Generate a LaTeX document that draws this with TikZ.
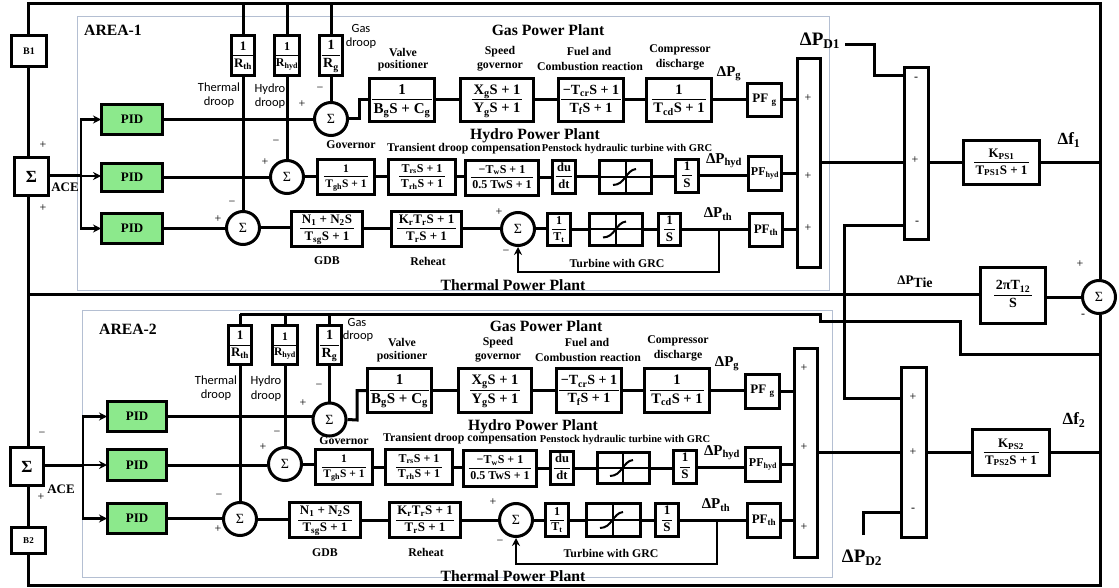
\documentclass[tikz,border=0pt]{standalone}
\usepackage{fontspec}
\setmainfont{Liberation Serif}
\newfontfamily\calib{Carlito}
\usetikzlibrary{arrows.meta,calc}
\newcommand\dn[1]{\textsubscript{#1}}
\newcommand\fsz[1]{\fontsize{#1}{#1}\selectfont}
\newcommand\frc[3]{{\fsz{#1}\setlength{\arrayrulewidth}{1pt}\renewcommand\arraystretch{1.22}\begin{tabular}{@{\hspace{1.5pt}}c@{\hspace{1.5pt}}}#2\\\hline #3\end{tabular}}}
\newcounter{lbl}
\definecolor{pidgreen}{HTML}{8CE98C}
\definecolor{areablue}{HTML}{B4BFD2}
\tikzset{
  wire/.style={line width=3pt,black},
  fbk/.style={line width=2pt,black},
  arr/.style={line width=2.4pt,black,-{Stealth[length=8pt,width=8pt]}},
  blk/.style={draw=black,line width=3pt,inner sep=0pt,outer sep=0.5pt,font=\bfseries},
  pidbox/.style={blk,fill=pidgreen,font=\bfseries\fsz{13}},
  sumc/.style={draw=black,circle,line width=3pt,inner sep=0pt,minimum size=33pt,font=\fsz{14}},
  area/.style={draw=areablue,line width=1pt},
  caplab/.style={inner sep=0pt,font=\bfseries\fsz{11.8}},
  penlab/.style={inner sep=0pt,font=\bfseries\fsz{10.5}},
  big/.style={inner sep=0pt,font=\bfseries\fsz{15.7}},
  dp/.style={inner sep=0pt,font=\bfseries\fsz{15}},
  sans/.style={inner sep=0pt,font=\calib\fsz{12.5}},
  sgn/.style={inner sep=0pt,font=\fsz{12}},
}
% \nbx[style]{name}{x1}{y1}{x2}{y2}{text}
\newcommand\nbx[7][blk]{\pgfmathsetmacro\bxw{#5-#3-3}\pgfmathsetmacro\bxh{#6-#4-3}%
  \node[#1,minimum width=\bxw pt,minimum height=\bxh pt] (#2) at ({(#3+#5)/2},{(#4+#6)/2}) {#7};}
% \lb[style]{x}{y}{text}
\newcommand\lb[4][caplab]{\stepcounter{lbl}\node[#1] (lb\arabic{lbl}) at (#2,#3) {#4};}
% saturation block
\newcommand\sat[6]{\nbx{#1}{#2}{#3}{#4}{#5}{}%
  \coordinate (#1v) at (#6,0);\coordinate (#1c) at (#1.center -| #1v);
  \draw[fbk] (#1.west) -- (#1.east);
  \draw[fbk] (#1.north -| #1v) -- (#1.south -| #1v);
  \draw[fbk] ([shift={(-13,8)}]#1c) .. controls ([shift={(-1,8)}]#1c) and ([shift={(0,-7)}]#1c) .. ([shift={(10,-8)}]#1c);}
\newcommand\hw[2]{\draw[wire] (#1.east) -- (#1.east -| #2.west);}
\begin{document}
\begin{tikzpicture}[x=1pt,y=-1pt]
\useasboundingbox (0,0) rectangle (1119,588);
\fill[white] (0,0) rectangle (1119,588);
% area frames
\draw[area] (77,17) rectangle (829,290);
\draw[area] (82,310) rectangle (832,577);
% named corners
\coordinate (TL) at (28,4);\coordinate (TR) at (1100,4);\coordinate (BR) at (1100,585);\coordinate (BL) at (28,585);
\coordinate (TieL) at (28,294.5);

%=== Area 1 blocks
\nbx{B1}{10}{34}{48}{68}{\fsz{10}B1}
\nbx{S1}{13}{156}{50}{197}{\fsz{17}Σ}
\nbx[pidbox]{PIDa}{100}{103}{164}{136}{PID}
\nbx[pidbox]{PIDb}{100}{162}{164}{193}{PID}
\nbx[pidbox]{PIDc}{100}{212}{164}{245}{PID}
\nbx{Rth}{230}{34}{256}{77}{\frc{13}{1}{R\dn{th}}}
\nbx{Rhy}{273}{34}{301}{77}{\frc{12}{1}{R\dn{hyd}}}
\nbx{Rg}{318}{34}{344}{77}{\frc{14}{1}{R\dn{g}}}
\node[sumc] (Sg) at (331,119) {Σ};
\node[sumc] (Sh) at (287,177) {Σ};
\node[sumc] (St) at (243,228) {Σ};
\nbx{Val}{368}{77}{436}{123}{\frc{15}{1}{B\dn{g}S + C\dn{g}}}
\nbx{Spd}{459}{77}{535}{123}{\frc{14.5}{X\dn{g}S + 1}{Y\dn{g}S + 1}}
\nbx{Fue}{557}{77}{625}{123}{\frc{14}{−T\dn{cr}S + 1}{T\dn{f}S + 1}}
\nbx{Cmp}{645}{77}{713}{123}{\frc{14.5}{1}{T\dn{cd}S + 1}}
\nbx{PFg}{746}{82}{783}{118}{\fsz{13}PF \dn{g}}
\nbx{AddA}{796}{57}{822}{269}{}
\nbx{Tgh}{316}{158}{376}{196}{\frc{11.5}{1}{T\dn{gh}S + 1}}
\nbx{Trs}{387}{158}{457}{196}{\frc{12}{T\dn{rs}S + 1}{T\dn{rh}S + 1}}
\nbx{Tw}{464}{159}{540}{197}{\frc{12}{−T\dn{w}S + 1}{0.5 TwS + 1}}
\nbx{Du}{551}{159}{577}{195}{\frc{12.5}{du}{dt}}
\sat{Sa}{598}{159}{653}{195}{626}
\nbx{Ia}{674}{158}{700}{194}{\frc{13}{1}{S}}
\nbx{PFh}{747}{155}{783}{192}{\fsz{12}PF\dn{hyd}}
\nbx{Nn}{290}{210}{364}{248}{\frc{13}{N\dn{1} + N\dn{2}S}{T\dn{sg}S + 1}}
\nbx{Kr}{390}{210}{463}{248}{\frc{13}{K\dn{r}T\dn{r}S + 1}{T\dn{r}S + 1}}
\node[sumc] (Sf) at (518,229) {Σ};
\nbx{Tt}{546}{212}{572}{247}{\frc{12}{1}{T\dn{t}}}
\sat{Sb}{588}{212}{644}{247}{616}
\nbx{Ib}{657}{212}{682}{247}{\frc{13}{1}{S}}
\nbx{PFt}{748}{212}{784}{248}{\fsz{13}PF\dn{th}}
\nbx{SumA}{903}{66}{930}{241}{}
\nbx{Ka}{962}{139}{1041}{186}{\frc{13}{K\dn{PS1}}{T\dn{PS1}S + 1}}
\nbx{Tie}{979}{266}{1047}{325}{\frc{14}{2πT\dn{12}}{S}}
\node[sumc] (Stie) at (1099,297) {Σ};

%=== Area 2 blocks
\nbx{B2}{10}{526}{47}{555}{\fsz{9}B2}
\nbx{S2}{9}{446}{45}{487}{\fsz{17}Σ}
\nbx[pidbox]{PIDd}{106}{400}{168}{433}{PID}
\nbx[pidbox]{PIDe}{106}{448}{168}{482}{PID}
\nbx[pidbox]{PIDf}{106}{502}{168}{535}{PID}
\nbx{Rthb}{227}{324}{253}{366}{\frc{13}{1}{R\dn{th}}}
\nbx{Rhyb}{272}{324}{298}{366}{\frc{11.5}{1}{R\dn{hyd}}}
\nbx{Rgb}{316}{324}{343}{366}{\frc{14}{1}{R\dn{g}}}
\node[sumc] (Sgb) at (329.5,419.5) {Σ};
\node[sumc] (Shb) at (285,464) {Σ};
\node[sumc] (Stb) at (240,519) {Σ};
\nbx{Valb}{366}{367}{433}{414}{\frc{15}{1}{B\dn{g}S + C\dn{g}}}
\nbx{Spdb}{457}{367}{533}{414}{\frc{14.5}{X\dn{g}S + 1}{Y\dn{g}S + 1}}
\nbx{Fueb}{555}{367}{623}{414}{\frc{14}{−T\dn{cr}S + 1}{T\dn{f}S + 1}}
\nbx{Cmpb}{643}{367}{711}{414}{\frc{14.5}{1}{T\dn{cd}S + 1}}
\nbx{PFgb}{744}{373}{781}{410}{\fsz{13}PF \dn{g}}
\nbx{AddB}{793}{347}{819}{559}{}
\nbx{Tghb}{314}{448}{374}{486}{\frc{11.5}{1}{T\dn{gh}S + 1}}
\nbx{Trsb}{384}{448}{454}{486}{\frc{12}{T\dn{rs}S + 1}{T\dn{rh}S + 1}}
\nbx{Twb}{462}{449}{538}{488}{\frc{12}{−T\dn{w}S + 1}{0.5 TwS + 1}}
\nbx{Dub}{549}{450}{575}{486}{\frc{12.5}{du}{dt}}
\sat{Sc}{596}{451}{651}{485}{623}
\nbx{Ic}{672}{449}{698}{485}{\frc{13}{1}{S}}
\nbx{PFhb}{744}{446}{782}{483}{\fsz{12}PF\dn{hyd}}
\nbx{Nnb}{288}{501}{362}{539}{\frc{13}{N\dn{1} + N\dn{2}S}{T\dn{sg}S + 1}}
\nbx{Krb}{388}{501}{462}{539}{\frc{13}{K\dn{r}T\dn{r}S + 1}{T\dn{r}S + 1}}
\node[sumc] (Sfb) at (516,520) {Σ};
\nbx{Ttb}{544}{502}{570}{538}{\frc{12}{1}{T\dn{t}}}
\sat{Sd}{585}{502}{642}{538}{613}
\nbx{Id}{654}{502}{680}{538}{\frc{13}{1}{S}}
\nbx{PFtb}{746}{502}{782}{539}{\fsz{13}PF\dn{th}}
\nbx{SumB}{900}{366}{928}{539}{}
\nbx{Kb}{971}{428}{1051}{477}{\frc{13}{K\dn{PS2}}{T\dn{PS2}S + 1}}

%=== outer loop
\draw[wire] (B1.north -| TL) -- (TL) -- (TR) -- (Stie.north -| TR);
\draw[wire] (B1.south -| TL) -- (S1.north -| TL);
\draw[wire] (S1.south -| TL) -- (S2.north -| TL);
\draw[wire] (S2.south -| TL) -- (B2.north -| TL);
\draw[wire] (B2.south -| TL) -- (BL) -- (BR) -- (Stie.south -| TR);
\draw[wire] (TieL) -- (TieL -| Tie.west);
\draw[wire] (Tie.east |- Stie.west) -- (Stie.west);

%=== Area 1 wiring
\coordinate (Ja) at (81,176);
\draw[wire] (S1.east |- Ja) -- (Ja);
\draw[arr] (Ja) |- (PIDa.west);
\draw[arr] (Ja) -- (Ja -| PIDb.west);
\draw[arr] (Ja) |- (PIDc.west);
\draw[wire] (Rth.north) -- (Rth.north |- TL);
\draw[wire] (Rhy.north) -- (Rhy.north |- TL);
\draw[wire] (Rg.north) -- (Rg.north |- TL);
\draw[wire] (Rth.south) -- (St.north);
\draw[wire] (Rhy.south) -- (Sh.north);
\draw[wire] (Rg.south) -- (Sg.north);
\draw[wire] (PIDa.east) -- (PIDa.east -| Sg.west);
\draw[wire] (PIDb.east) -- (PIDb.east -| Sh.west);
\draw[wire] (PIDc.east) -- (PIDc.east -| St.west);
\coordinate (Ga) at (359,119);
\draw[wire] (Sg.east) -- (Ga) |- (Val.west);
\hw{Val}{Spd}\hw{Spd}{Fue}\hw{Fue}{Cmp}\hw{Cmp}{PFg}\hw{PFg}{AddA}
\hw{Sh}{Tgh}\hw{Tgh}{Trs}\hw{Trs}{Tw}\hw{Tw}{Du}\hw{Du}{Sa}\hw{Sa}{Ia}\hw{Ia}{PFh}\hw{PFh}{AddA}
\hw{St}{Nn}\hw{Nn}{Kr}\hw{Kr}{Sf}\hw{Sf}{Tt}\hw{Tt}{Sb}\hw{Sb}{Ib}\hw{Ib}{PFt}\hw{PFt}{AddA}
\coordinate (Fa) at (719,229.5);\coordinate (Fb) at (719,272);
\draw[arr] (Fa) -- (Fb) -| (Sf.south);
\draw[wire] (Ka.west -| AddA.east) -- (Ka.west -| SumA.west);
\draw[wire] (Ka.west -| SumA.east) -- (Ka.west);
\draw[wire] (Ka.east) -- (Ka.east -| TR);
% disturbance and tie inputs
\coordinate (Da) at (845,45);\coordinate (Db) at (874,45);\coordinate (Dc) at (874,76);
\draw[wire] (Da) -- (Db) -- (Dc) -- (Dc -| SumA.west);
\coordinate (Ea) at (844,226);\coordinate (Eb) at (844,398);
\draw[wire] (Ea -| SumA.west) -- (Ea) -- (Eb) -- (Eb -| SumB.west);

%=== Area 2 wiring
\coordinate (Jb) at (83,465);
\draw[wire] (S2.east |- Jb) -- (Jb);
\draw[arr] (Jb) |- (PIDd.west);
\draw[arr] (Jb) -- (Jb -| PIDe.west);
\draw[arr] (Jb) |- (PIDf.west);
\coordinate (Ha) at (240,314);\coordinate (Hb) at (820,314);\coordinate (Hc) at (820,321);\coordinate (Hd) at (960,321);\coordinate (He) at (960,354);
\draw[wire] (Ha) -- (Hb) -- (Hc) -- (Hd) -- (He) -- (He -| TR);
\draw[wire] (Rthb.north) -- (Rthb.north |- Ha);
\draw[wire] (Rhyb.north) -- (Rhyb.north |- Ha);
\draw[wire] (Rgb.north) -- (Rgb.north |- Ha);
\draw[wire] (Rthb.south) -- (Stb.north);
\draw[wire] (Rhyb.south) -- (Shb.north -| Rhyb.south);
\draw[wire] (Rgb.south) -- (Sgb.north);
\draw[wire] (PIDd.east) -- (PIDd.east -| Sgb.west);
\draw[wire] (PIDe.east) -- (PIDe.east -| Shb.west);
\draw[wire] (PIDf.east) -- (PIDf.east -| Stb.west);
\coordinate (Gb) at (357,420);
\draw[wire] (Sgb.east) -- (Gb) |- (Valb.west);
\hw{Valb}{Spdb}\hw{Spdb}{Fueb}\hw{Fueb}{Cmpb}\hw{Cmpb}{PFgb}\hw{PFgb}{AddB}
\hw{Shb}{Tghb}\hw{Tghb}{Trsb}\hw{Trsb}{Twb}\hw{Twb}{Dub}\hw{Dub}{Sc}\hw{Sc}{Ic}\hw{Ic}{PFhb}\hw{PFhb}{AddB}
\hw{Stb}{Nnb}\hw{Nnb}{Krb}\hw{Krb}{Sfb}\hw{Sfb}{Ttb}\hw{Ttb}{Sd}\hw{Sd}{Id}\hw{Id}{PFtb}\hw{PFtb}{AddB}
\coordinate (Fc) at (717,520);\coordinate (Fd) at (717,564);
\draw[arr] (Fc) -- (Fd) -| (Sfb.south);
\draw[wire] (Kb.west -| AddB.east) -- (Kb.west -| SumB.west);
\draw[wire] (Kb.west -| SumB.east) -- (Kb.west);
\draw[wire] (Kb.east) -- (Kb.east -| TR);
\coordinate (Dd) at (863,535);\coordinate (De) at (863,512);
\draw[wire] (Dd) -- (De) -- (De -| SumB.west);

%=== Labels, area 1
\lb[big]{113}{30}{AREA-1}
\lb[sans]{361}{28}{Gas}\lb[sans]{361}{43}{droop}
\lb[sans]{219}{87}{Thermal}\lb[sans]{219}{102}{droop}
\lb[sans]{270}{89}{Hydro}\lb[sans]{270}{103}{droop}
\lb{403}{52}{Valve}\lb{403}{66}{positioner}
\lb{500}{52}{Speed}\lb{500}{67}{governor}
\lb{589}{51}{Fuel and}\lb{590}{66}{Combustion reaction}
\lb{680}{50}{Compressor}\lb{680}{65}{discharge}
\lb[big]{548}{30}{Gas Power Plant}
\lb[big]{535}{136}{Hydro Power Plant}
\lb{464}{149}{Transient droop compensation}
\lb[penlab]{627}{149}{Penstock hydraulic turbine with GRC}
\lb[dp]{729}{74}{ΔP\dn{g}}
\lb[dp]{724}{161}{ΔP\dn{hyd}}
\lb[dp]{718}{214}{ΔP\dn{th}}
\lb{617}{263}{Turbine with GRC}
\lb[big]{513}{285}{Thermal Power Plant}
\lb{351}{145}{Governor}
\lb{327}{261}{GDB}
\lb{428}{261}{Reheat}
\lb[inner sep=0pt,font=\bfseries\fsz{19}]{820}{41}{ΔP\dn{D1}}
\lb[inner sep=0pt,font=\bfseries\fsz{17}]{1069}{140}{Δf\dn{1}}
\lb[inner sep=0pt]{915}{282}{\bfseries{\fsz{13}ΔP}\raisebox{-3pt}{\fsz{14}Tie}}
\lb[inner sep=0pt,font=\bfseries\fsz{13}]{65}{187}{ACE}
\lb[sgn]{43}{145}{+}\lb[sgn]{43}{208}{+}
\lb[sgn]{302}{104}{+}\lb[sgn]{320}{89}{−}
\lb[sgn]{276}{142}{−}\lb[sgn]{265}{162}{+}
\lb[sgn]{232}{203}{−}\lb[sgn]{218}{219}{+}
\lb[sgn]{499}{212}{+}\lb[sgn]{506}{252}{−}
\lb[sgn]{808}{98}{+}\lb[sgn]{808}{176}{+}\lb[sgn]{808}{228}{+}
\lb[sgn]{916}{79}{-}\lb[sgn]{915}{160}{+}\lb[sgn]{917}{223}{-}
\lb[sgn]{1080}{264}{+}\lb[sgn]{1083}{316}{-}

%=== Labels, area 2
\lb[big]{128}{329}{AREA-2}
\lb[sans]{357}{322}{Gas}\lb[sans]{358}{336}{droop}
\lb[sans]{216}{380}{Thermal}\lb[sans]{216}{395}{droop}
\lb[sans]{266}{381}{Hydro}\lb[sans]{266}{396}{droop}
\lb{402}{342}{Valve}\lb{402}{357}{positioner}
\lb{498}{343}{Speed}\lb{498}{358}{governor}
\lb{587}{342}{Fuel and}\lb{588}{357}{Combustion reaction}
\lb{678}{341}{Compressor}\lb{678}{356}{discharge}
\lb[big]{546}{326}{Gas Power Plant}
\lb[big]{533}{427}{Hydro Power Plant}
\lb{460}{439}{Transient droop compensation}
\lb[penlab]{625}{440}{Penstock hydraulic turbine with GRC}
\lb[dp]{727}{364}{ΔP\dn{g}}
\lb[dp]{722}{453}{ΔP\dn{hyd}}
\lb[dp]{716}{505}{ΔP\dn{th}}
\lb{611}{553}{Turbine with GRC}
\lb[big]{513}{576}{Thermal Power Plant}
\lb{344}{441}{Governor}
\lb{325}{553}{GDB}
\lb{426}{552}{Reheat}
\lb[inner sep=0pt,font=\bfseries\fsz{19}]{862}{558}{ΔP\dn{D2}}
\lb[inner sep=0pt,font=\bfseries\fsz{17}]{1074}{420}{Δf\dn{2}}
\lb[inner sep=0pt,font=\bfseries\fsz{13}]{61}{489}{ACE}
\lb[sgn]{42}{434}{−}\lb[sgn]{41}{497}{+}
\lb[sgn]{303}{403}{+}\lb[sgn]{319}{386}{−}
\lb[sgn]{277}{433}{−}\lb[sgn]{263}{447}{+}
\lb[sgn]{219}{496}{−}\lb[sgn]{218}{529}{+}
\lb[sgn]{493}{502}{+}\lb[sgn]{500}{542}{−}
\lb[sgn]{804}{368}{+}\lb[sgn]{804}{447}{+}\lb[sgn]{804}{527}{+}
\lb[sgn]{913}{397}{+}\lb[sgn]{913}{452}{+}\lb[sgn]{913}{510}{-}
\end{tikzpicture}
\end{document}
